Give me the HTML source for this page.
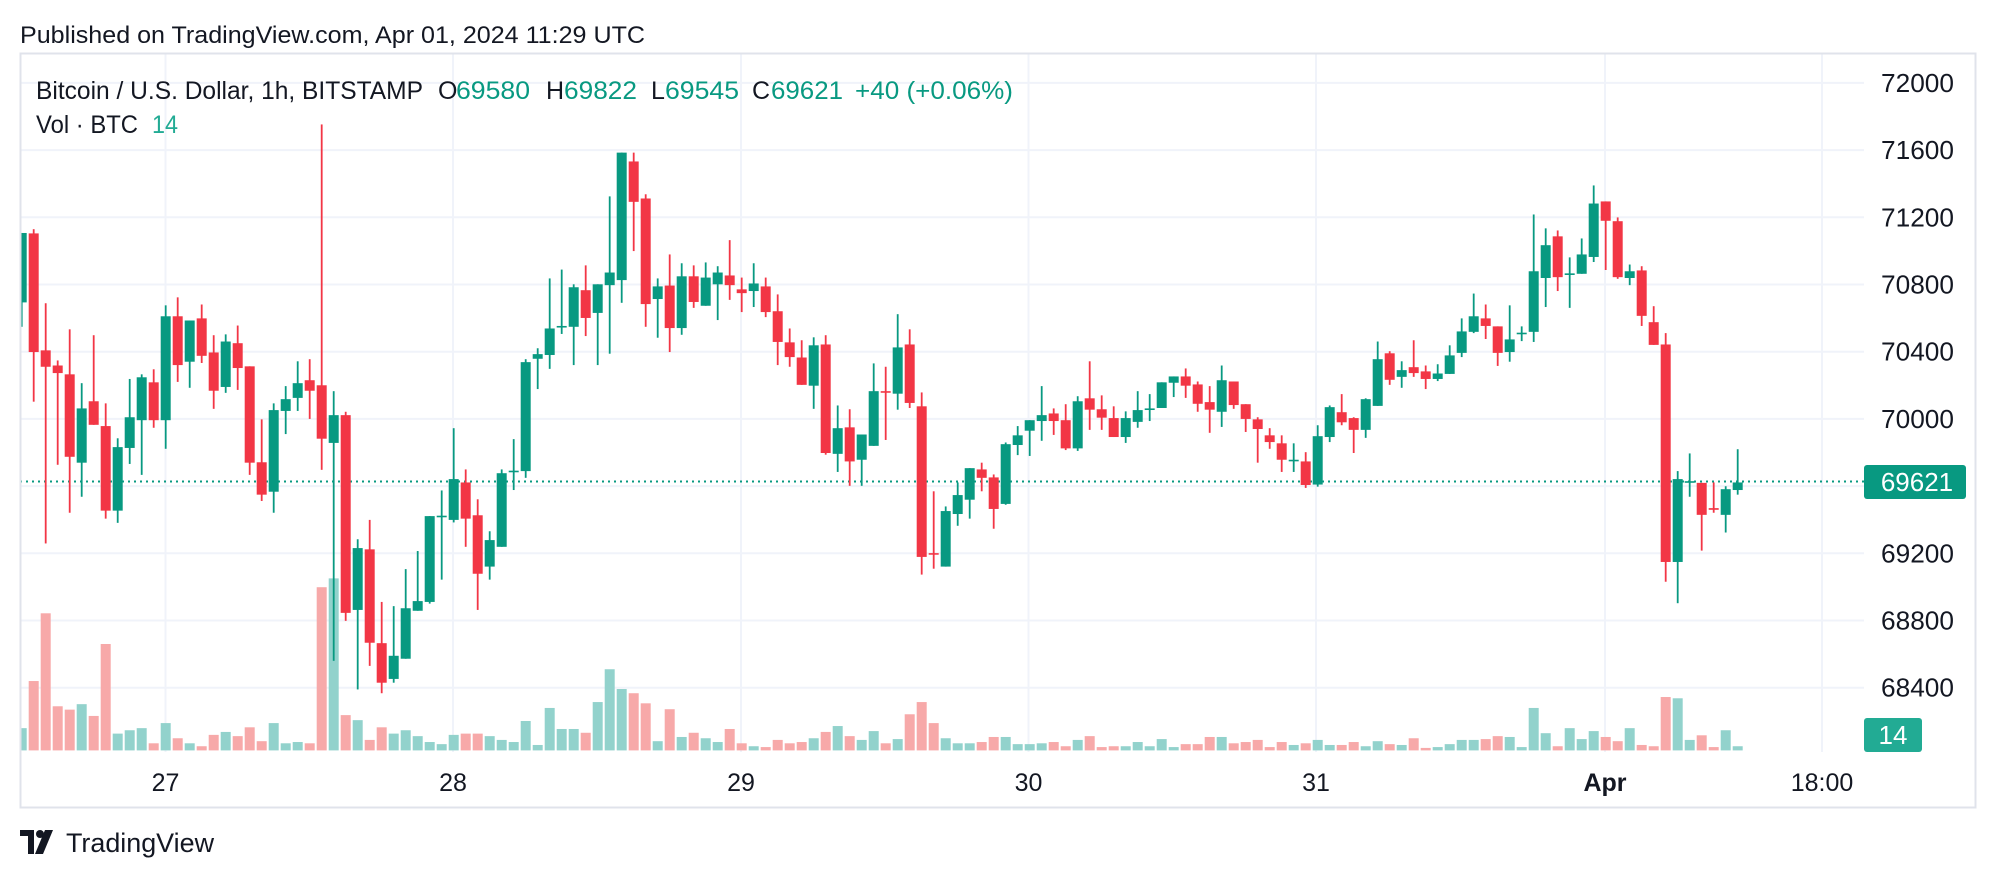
<!DOCTYPE html>
<html><head><meta charset="utf-8"><style>
html,body{margin:0;padding:0;background:#fff;}
svg{display:block;}
text{font-family:"Liberation Sans",Arial,sans-serif;}
</style></head><body>
<svg id="s" width="1996" height="878" viewBox="0 0 1996 878" xmlns="http://www.w3.org/2000/svg">
<rect width="1996" height="878" fill="#fff"/>
<text x="20" y="43" font-size="24" fill="#131722" textLength="625" lengthAdjust="spacingAndGlyphs">Published on TradingView.com, Apr 01, 2024 11:29 UTC</text>
<g id="grid"></g>
<g id="vol"></g>
<line x1="20" y1="481.5" x2="1864" y2="481.5" stroke="#089981" stroke-width="2" stroke-dasharray="2,4"/>
<g id="c"></g>
<rect x="20.5" y="53.5" width="1955" height="754" fill="none" stroke="#e0e3eb" stroke-width="2"/>
<text x="36" y="99" font-size="25" fill="#131722" textLength="387" lengthAdjust="spacingAndGlyphs">Bitcoin / U.S. Dollar, 1h, BITSTAMP</text>
<text x="438" y="99" font-size="25" fill="#131722">O</text>
<text x="456" y="99" font-size="25" fill="#089981" textLength="74" lengthAdjust="spacingAndGlyphs">69580</text>
<text x="546" y="99" font-size="25" fill="#131722">H</text>
<text x="564" y="99" font-size="25" fill="#089981" textLength="73" lengthAdjust="spacingAndGlyphs">69822</text>
<text x="651" y="99" font-size="25" fill="#131722">L</text>
<text x="665" y="99" font-size="25" fill="#089981" textLength="74" lengthAdjust="spacingAndGlyphs">69545</text>
<text x="752" y="99" font-size="25" fill="#131722">C</text>
<text x="771" y="99" font-size="25" fill="#089981" textLength="72" lengthAdjust="spacingAndGlyphs">69621</text>
<text x="855" y="99" font-size="25" fill="#089981" textLength="158" lengthAdjust="spacingAndGlyphs">+40 (+0.06%)</text>
<text x="36" y="133" font-size="25" fill="#131722" textLength="102" lengthAdjust="spacingAndGlyphs">Vol · BTC</text>
<text x="152" y="133" font-size="25" fill="#22ab94" textLength="26" lengthAdjust="spacingAndGlyphs">14</text>
<g id="ax" font-size="26" fill="#131722"></g>
<rect x="1864" y="465" width="102" height="34" rx="3" fill="#089981"/>
<text x="1917" y="491" font-size="26" fill="#fff" text-anchor="middle">69621</text>
<rect x="1864" y="718" width="58" height="34" rx="3" fill="#22ab94"/>
<text x="1893" y="744" font-size="26" fill="#fff" text-anchor="middle">14</text>
<g transform="translate(20,828)" fill="#131722">
<path d="M0 2 H14 V26 H8 V8 H0 Z"/>
<circle cx="20" cy="6" r="4"/>
<path d="M25 2 H33 L23 26 H15 Z"/>
</g>
<text x="66" y="852" font-size="27" fill="#131722" textLength="148" lengthAdjust="spacingAndGlyphs">TradingView</text>
</svg>
<script>
var NS="http://www.w3.org/2000/svg";
function el(p,t,a){var e=document.createElementNS(NS,t);for(var k in a)e.setAttribute(k,a[k]);p.appendChild(e);return e;}
var g=document.getElementById('grid'),vg=document.getElementById('vol'),cg=document.getElementById('c'),ax=document.getElementById('ax');
// horizontal grid
for(var i=0;i<10;i++){var p=72000-i*400;var y=82.9+(72000-p)*0.168;
 if(y<760)el(g,'line',{x1:20,x2:1864,y1:y,y2:y,stroke:'#f0f3fa','stroke-width':2});
 var t=el(ax,'text',{x:1881,y:y+9,'textLength':73,'lengthAdjust':'spacingAndGlyphs'});t.textContent=p;}
var dx=[[165.5,'27'],[453,'28'],[741,'29'],[1028.5,'30'],[1316,'31'],[1605,'Apr'],[1822,'18:00']];
dx.forEach(function(d){el(g,'line',{x1:d[0],x2:d[0],y1:54,y2:752,stroke:'#f0f3fa','stroke-width':2});
 var t=el(ax,'text',{x:d[0],y:791,'text-anchor':'middle','font-size':25});if(d[1]=='Apr')t.setAttribute('font-weight','bold');t.textContent=d[1];});
var D=[
[480,315,315,538,1492],[316,598,306,716,1380],[594,633,482,1053,1219],[630,648,618,866,1440],[651,847,544,980,1448],[861,732,672,942,1435],[715,771,558,771,1463],[774,975,720,994,1292],[975,824,803,1004,1505],[826,753,662,864,1497],[760,658,651,890,1492],[670,760,639,778,1528],[760,513,487,828,1480],[513,629,468,669,1516],[621,523,523,683,1528],[518,607,485,624,1535],[599,690,558,733,1508],[681,573,556,695,1501],[577,636,535,688,1511],[632,861,632,890,1490],[860,937,758,952,1523],[930,736,720,980,1480],[738,710,679,793,1528],[707,672,620,738,1525],[665,690,615,757,1528],[677,804,57,878,1157],[814,748,691,1332,1136],[748,1218,740,1237,1461],[1211,1064,1043,1400,1473],[1067,1289,997,1344,1520],[1290,1384,1192,1409,1490],[1375,1320,1202,1384,1505],[1327,1207,1114,1327,1497],[1213,1190,1071,1213,1511],[1192,988,988,1196,1525],[988,987,927,1139,1530],[997,900,779,1003,1508],
[908,994,877,1061,1505],[986,1125,948,1211,1505],[1108,1045,1024,1139,1511],[1061,886,877,1061,1520],[882,880,805,926,1525],[881,622,615,897,1475],[614,603,589,686,1532],[605,542,423,638,1444],[538,536,402,555,1494],[538,444,437,629,1494],[451,517,392,560,1503],[505,437,437,629,1430],[439,409,228,602,1352],[427,124,124,481,1399],[145,241,124,358,1409],[233,484,223,538,1433],[472,442,423,564,1523],[440,541,366,598,1447],[541,418,387,557,1513],[418,479,392,493,1503],[488,421,385,488,1516],[437,409,394,522,1525],[416,439,332,474,1494],[449,458,421,503,1528],[453,435,387,491,1535],[442,503,421,515,1537],[501,574,461,629,1520],[575,610,542,633,1528],[611,676,570,676,1525],[678,582,563,733,1516],[580,838,558,842,1501],[840,779,725,883,1487],[777,858,734,916,1511],[854,794,794,916,1520],[821,691,625,821,1499],
[691,693,633,807,1528],[697,587,508,735,1518],[580,719,544,731,1459],[727,1085,694,1127,1430],[1076,1079,929,1113,1480],[1108,976,965,1108,1516],[983,938,908,1011,1528],[949,874,874,994,1528],[877,897,861,929,1525],[896,971,889,1018,1513],[959,817,813,961,1513],[819,796,774,843,1530],[785,760,760,845,1530],[762,748,679,809,1528],[744,762,732,795,1525],[760,827,722,831,1535],[827,715,703,833,1520],[708,735,620,783,1511],[734,754,701,783,1537],[755,800,727,800,1535],[800,755,739,814,1535],[764,736,691,778,1525],[734,732,698,762,1535],[731,670,670,731,1518],[671,656,656,705,1537],[656,678,637,707,1530],[675,721,668,740,1530],[717,735,679,790,1513],[740,665,630,776,1513],[668,724,668,733,1528],[722,757,722,788,1525],[758,781,753,861,1520],[796,812,779,828,1537],[815,854,796,883,1525],[856,854,815,883,1532],
[858,914,836,921,1528],[913,798,772,918,1520],[800,729,725,812,1532],[741,765,698,772,1532],[755,783,753,838,1525],[783,710,708,802,1535],[726,615,573,726,1523],[601,664,596,676,1530],[657,641,620,683,1532],[634,648,570,657,1516],[644,662,630,686,1539],[662,649,627,667,1537],[650,606,582,650,1530],[600,549,518,610,1520],[550,513,459,553,1520],[518,536,485,567,1518],[537,600,537,631,1511],[598,568,487,621,1513],[554,552,537,572,1537],[550,406,271,574,1444],[422,344,304,491,1504],[323,420,309,453,1535],[413,411,373,493,1492],[412,366,328,412,1518],[372,245,202,384,1499],[240,286,240,403,1513],[287,420,278,424,1523],[422,406,390,439,1492],[404,512,394,536,1532],[527,581,489,581,1535],[580,1097,553,1144,1418],[1097,900,881,1195,1421],[907,905,839,942,1520],[909,985,909,1070,1509],[969,973,908,980,1537],[985,924,917,1027,1497],[926,908,829,937,1535]];
function Y(z){return 100.46+z*0.4207;}
var cp=el(document.getElementById('s'),'clipPath',{id:'cl'});el(cp,'rect',{x:21,y:54,width:1843,height:700});
cg.setAttribute('clip-path','url(#cl)');vg.setAttribute('clip-path','url(#cl)');
D.forEach(function(d,i){var x=21.7+i*12;var up=d[1]<=d[0];var col=up?'#089981':'#F23645';
 var vy=Y(d[4]);el(vg,'rect',{x:x-5,y:vy,width:10,height:750.4-vy,fill:up?'#92d2cc':'#f7a9a9'});
 el(cg,'rect',{x:x-0.9,y:Y(d[2]),width:1.8,height:Math.max(1,Y(d[3])-Y(d[2])),fill:col});
 var a=Y(Math.min(d[0],d[1])),b=Y(Math.max(d[0],d[1]));
 el(cg,'rect',{x:x-5,y:a,width:10,height:Math.max(1.6,b-a),fill:col});});
</script>
</body></html>
